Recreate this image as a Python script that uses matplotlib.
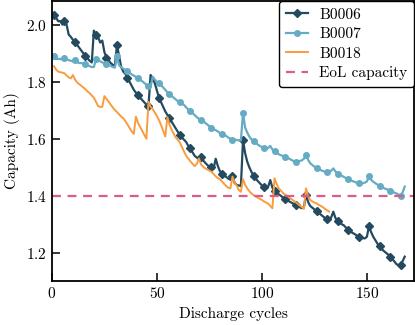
import numpy as np
import matplotlib
matplotlib.use("Agg")
import matplotlib.pyplot as plt

# capacity per discharge cycle (Ah)
b0006 = [2.035, 2.025, 2.013, 2.013, 2.001, 2.014, 2.001, 1.966, 1.958, 1.948,
         1.940, 1.930, 1.920, 1.910, 1.900, 1.892, 1.882, 1.874, 1.868, 1.980,
         1.965, 1.958, 1.938, 1.945, 1.905, 1.884, 1.876, 1.866, 1.860, 1.855,
         1.930, 1.890, 1.852, 1.836, 1.828, 1.813, 1.800, 1.786, 1.772, 1.762,
         1.752, 1.745, 1.736, 1.728, 1.720, 1.716, 1.824, 1.812, 1.795, 1.770,
         1.744, 1.728, 1.712, 1.696, 1.684, 1.672, 1.660, 1.648, 1.636, 1.624,
         1.612, 1.604, 1.596, 1.588, 1.574, 1.566, 1.552, 1.540, 1.534, 1.528,
         1.536, 1.524, 1.516, 1.508, 1.502, 1.500, 1.495, 1.530, 1.505, 1.486,
         1.478, 1.470, 1.466, 1.460, 1.456, 1.468, 1.445, 1.438, 1.436, 1.434,
         1.596, 1.550, 1.520, 1.500, 1.484, 1.470, 1.460, 1.452, 1.444, 1.436,
         1.430, 1.424, 1.432, 1.455, 1.428, 1.416, 1.412, 1.405, 1.400, 1.394,
         1.388, 1.384, 1.380, 1.376, 1.372, 1.369, 1.364, 1.360, 1.356, 1.360,
         1.404, 1.378, 1.364, 1.358, 1.352, 1.347, 1.340, 1.334, 1.328, 1.322,
         1.317, 1.318, 1.324, 1.344, 1.322, 1.310, 1.305, 1.300, 1.296, 1.288,
         1.280, 1.275, 1.270, 1.266, 1.261, 1.256, 1.253, 1.251, 1.250, 1.256,
         1.293, 1.272, 1.256, 1.244, 1.232, 1.222, 1.214, 1.206, 1.200, 1.194,
         1.186, 1.178, 1.170, 1.160, 1.156, 1.158, 1.170, 1.186]

b0007 = [1.891, 1.880, 1.881, 1.880, 1.879, 1.883, 1.880, 1.876, 1.874, 1.872,
         1.875, 1.870, 1.866, 1.866, 1.864, 1.862, 1.858, 1.855, 1.852, 1.852,
         1.880, 1.878, 1.872, 1.868, 1.866, 1.862, 1.860, 1.856, 1.852, 1.850,
         1.889, 1.858, 1.852, 1.846, 1.842, 1.838, 1.832, 1.826, 1.822, 1.817,
         1.813, 1.808, 1.802, 1.796, 1.790, 1.786, 1.782, 1.818, 1.808, 1.800,
         1.795, 1.788, 1.780, 1.772, 1.763, 1.756, 1.750, 1.744, 1.738, 1.732,
         1.728, 1.724, 1.718, 1.710, 1.702, 1.696, 1.690, 1.683, 1.676, 1.670,
         1.667, 1.662, 1.656, 1.650, 1.644, 1.638, 1.634, 1.630, 1.626, 1.620,
         1.617, 1.614, 1.610, 1.604, 1.600, 1.597, 1.596, 1.596, 1.594, 1.594,
         1.692, 1.640, 1.622, 1.608, 1.598, 1.592, 1.586, 1.580, 1.575, 1.571,
         1.568, 1.566, 1.568, 1.575, 1.562, 1.556, 1.550, 1.546, 1.542, 1.540,
         1.537, 1.534, 1.530, 1.526, 1.522, 1.520, 1.521, 1.522, 1.524, 1.530,
         1.543, 1.526, 1.514, 1.508, 1.502, 1.496, 1.493, 1.490, 1.487, 1.484,
         1.482, 1.484, 1.488, 1.496, 1.485, 1.478, 1.474, 1.470, 1.466, 1.462,
         1.458, 1.455, 1.452, 1.449, 1.446, 1.444, 1.443, 1.444, 1.446, 1.450,
         1.469, 1.456, 1.449, 1.444, 1.439, 1.434, 1.430, 1.427, 1.424, 1.421,
         1.418, 1.415, 1.411, 1.408, 1.404, 1.399, 1.412, 1.432]

b0018 = [1.855, 1.843, 1.836, 1.834, 1.832, 1.830, 1.822, 1.816, 1.812, 1.824,
         1.808, 1.798, 1.792, 1.786, 1.780, 1.774, 1.766, 1.760, 1.752, 1.744,
         1.730, 1.715, 1.712, 1.712, 1.750, 1.740, 1.730, 1.720, 1.710, 1.701,
         1.694, 1.686, 1.678, 1.672, 1.662, 1.650, 1.638, 1.626, 1.617, 1.678,
         1.656, 1.642, 1.628, 1.614, 1.600, 1.730, 1.712, 1.704, 1.692, 1.680,
         1.666, 1.648, 1.628, 1.608, 1.676, 1.650, 1.632, 1.618, 1.604, 1.596,
         1.586, 1.570, 1.554, 1.540, 1.530, 1.520, 1.512, 1.504, 1.512, 1.531,
         1.510, 1.502, 1.496, 1.492, 1.488, 1.484, 1.476, 1.468, 1.462, 1.458,
         1.450, 1.442, 1.434, 1.428, 1.426, 1.467, 1.446, 1.436, 1.420, 1.414,
         1.458, 1.438, 1.426, 1.416, 1.408, 1.402, 1.398, 1.393, 1.389, 1.385,
         1.380, 1.376, 1.372, 1.364, 1.356, 1.461, 1.442, 1.426, 1.418, 1.410,
         1.404, 1.400, 1.394, 1.388, 1.383, 1.378, 1.372, 1.366, 1.360, 1.354,
         1.426, 1.398, 1.385, 1.380, 1.376, 1.373, 1.368, 1.364, 1.360, 1.354,
         1.349, 1.344]

eol_capacity = 1.4

plt.rcParams['font.family'] = 'serif'
plt.rcParams['font.serif'] = ['cmr10']
plt.rcParams['mathtext.fontset'] = 'cm'
plt.rcParams['axes.formatter.use_mathtext'] = True

fig = plt.figure(figsize=(4.15, 3.25), dpi=100)
ax = fig.add_axes([0.125, 0.135, 0.873, 0.862])

c6 = '#244a60'
c7 = '#66abc4'
c18 = '#f99c3f'
ceol = '#de5a8c'

ax.plot(np.arange(1, len(b0006) + 1), b0006, color=c6, lw=1.6, marker='D',
        ms=4, markevery=5, label='B0006')
ax.plot(np.arange(1, len(b0007) + 1), b0007, color=c7, lw=1.6, marker='o',
        ms=4, markevery=5, label='B0007')
ax.plot(np.arange(1, len(b0018) + 1), b0018, color=c18, lw=1.4, label='B0018')
ax.axhline(eol_capacity, color=ceol, lw=1.6, ls=(0, (4, 3)), label='EoL capacity')

ax.set_xlim(0, 172.5)
ax.set_ylim(1.10, 2.084)
ax.set_xticks([0, 50, 100, 150])
ax.set_yticks([1.2, 1.4, 1.6, 1.8, 2.0])
ax.tick_params(direction='in', length=6, width=1.1, labelsize=11, top=False, right=False)
for s in ax.spines.values():
    s.set_linewidth(1.3)

ax.set_xlabel('Discharge cycles', fontsize=11)
ax.set_ylabel('Capacity (Ah)', fontsize=11)

leg = ax.legend(loc='upper right', fontsize=11, framealpha=1, edgecolor='black',
                borderaxespad=0.0, fancybox=True, labelspacing=0.38,
                handlelength=1.5, handletextpad=0.7, borderpad=0.45)
leg.get_frame().set_linewidth(1.0)

fig.savefig('out.png', dpi=100)
